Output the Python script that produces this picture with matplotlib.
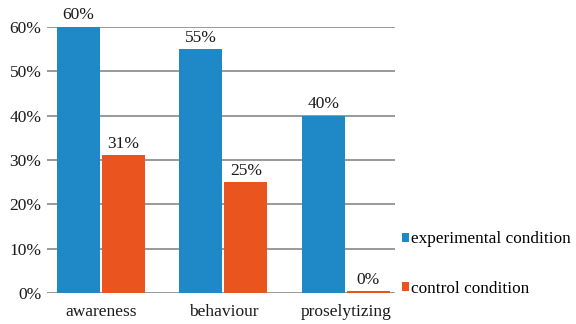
import numpy as np
import matplotlib.pyplot as plt

categories = ['awareness', 'behaviour', 'proselytizing']
experimental = [60, 55, 40]
control = [31, 25, 0.4]
yticks = [0, 10, 20, 30, 40, 50, 60]

blue = '#1f88c6'
orange = '#e9541f'

plt.rcParams['font.family'] = ['Liberation Serif', 'DejaVu Serif']

fig = plt.figure(figsize=(5.76, 3.24), dpi=100)
ax = fig.add_axes([0.0816, 0.096, 0.604, 0.821])

x = np.arange(len(categories))
w = 0.351
gap = 0.008
b1 = ax.bar(x - w/2 - gap, experimental, w, color=blue, label='experimental condition', zorder=3)
b2 = ax.bar(x + w/2 + gap, control, w, color=orange, label='control condition', zorder=3)

for bars, vals in [(b1, experimental), (b2, control)]:
    for b, v in zip(bars, vals):
        ax.text(b.get_x() + b.get_width()/2, v + 0.8, f'{v:.0f}%', ha='center', va='bottom',
                fontsize=12.5, color='#1a1a1a', clip_on=False)

ax.set_xlim(-0.44, 2.40)
ax.set_ylim(0, 60)
ax.set_yticks(yticks)
ax.set_yticklabels([f'{t}%' for t in yticks], fontsize=12.5, color='#1a1a1a')
ax.set_xticks(x)
ax.set_xticklabels(categories, fontsize=12.5, color='#1a1a1a')
ax.tick_params(axis='x', length=0, pad=8)
ax.tick_params(axis='y', length=0, pad=4)
ax.yaxis.grid(True, color='#888888', linewidth=1.2, zorder=0)
for s in ax.spines.values():
    s.set_visible(False)

fig.legend(handles=[b1, b2], loc='upper left', bbox_to_anchor=(0.698, 0.286),
           frameon=False, fontsize=12.4, handlelength=0.4, handleheight=0.4,
           handletextpad=0.1, labelspacing=1.95, borderaxespad=0, borderpad=0)

fig.savefig('out.png', dpi=100)
